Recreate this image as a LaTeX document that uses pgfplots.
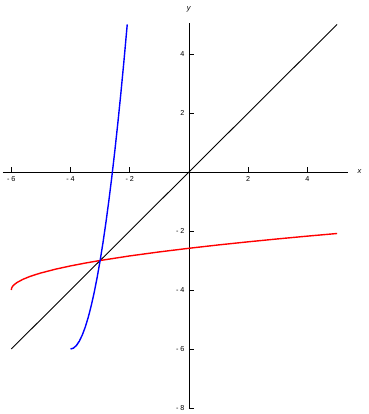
\documentclass[border=0pt]{standalone}
\usepackage{fontspec}
\setmainfont{Liberation Sans}
\usepackage{pgfplots}
\pgfplotsset{compat=1.18}
\begin{document}
\begin{tikzpicture}
\begin{axis}[
  scale only axis,
  width=345pt, height=385pt,
  xmin=-6.28, xmax=5.37,
  ymin=-8, ymax=5.05,
  axis lines=middle,
  axis line style={-, line width=0.8pt},
  xtick={-6,-4,-2,2,4},
  xticklabels={- 6,- 4,- 2,2,4},
  ytick={-8,-6,-4,-2,2,4},
  yticklabels={- 8,- 6,- 4,- 2,2,4},
  minor tick num=3,
  tick align=inside,
  major tick length=5pt,
  minor tick length=3pt,
  tick style={black, line width=0.7pt},
  tick label style={font=\fontsize{7.2}{8}\selectfont},
  xticklabel style={anchor=north, yshift=-1pt},
  yticklabel style={anchor=east, xshift=-1pt},
  xlabel={\textit{x}}, ylabel={\textit{y}},
  xlabel style={at={(ticklabel* cs:1)}, anchor=west, xshift=6pt, font=\fontsize{7.5}{8}\selectfont},
  ylabel style={at={(ticklabel* cs:1)}, anchor=south, yshift=7pt, font=\fontsize{7.5}{8}\selectfont},
  clip=false,
]
\addplot[black, line width=0.9pt] coordinates {(-6,-6) (5,5)};
\addplot[red, line width=1.4pt] coordinates {
(-6,-4) (-5.99,-3.942) (-5.97,-3.900) (-5.95,-3.871) (-5.9,-3.817) (-5.8,-3.742)
(-5.6,-3.635) (-5.4,-3.553) (-5.2,-3.484) (-5.0,-3.423) (-4.5,-3.293) (-4,-3.184)
(-3.5,-3.087) (-3,-3) (-2,-2.845) (-1,-2.709) (0,-2.586) (1,-2.472) (2,-2.367)
(3,-2.268) (4,-2.174) (5,-2.085)};
\addplot[blue, line width=1.4pt] coordinates {
(-4,-6) (-3.9,-5.97) (-3.8,-5.88) (-3.7,-5.73) (-3.6,-5.52) (-3.5,-5.25)
(-3.4,-4.92) (-3.3,-4.53) (-3.2,-4.08) (-3.1,-3.57) (-3.0,-3) (-2.9,-2.37)
(-2.8,-1.68) (-2.7,-0.93) (-2.6,-0.12) (-2.5,0.75) (-2.4,1.68) (-2.3,2.67)
(-2.2,3.72) (-2.1,4.83) (-2.085,5.0)};
\end{axis}
\pgfresetboundingbox
\path (current axis.south west) ++(-3pt,-6pt) coordinate (bl);
\path (current axis.north east) ++(20pt,23pt) coordinate (tr);
\path[use as bounding box] (bl) rectangle (tr);
\end{tikzpicture}
\end{document}
